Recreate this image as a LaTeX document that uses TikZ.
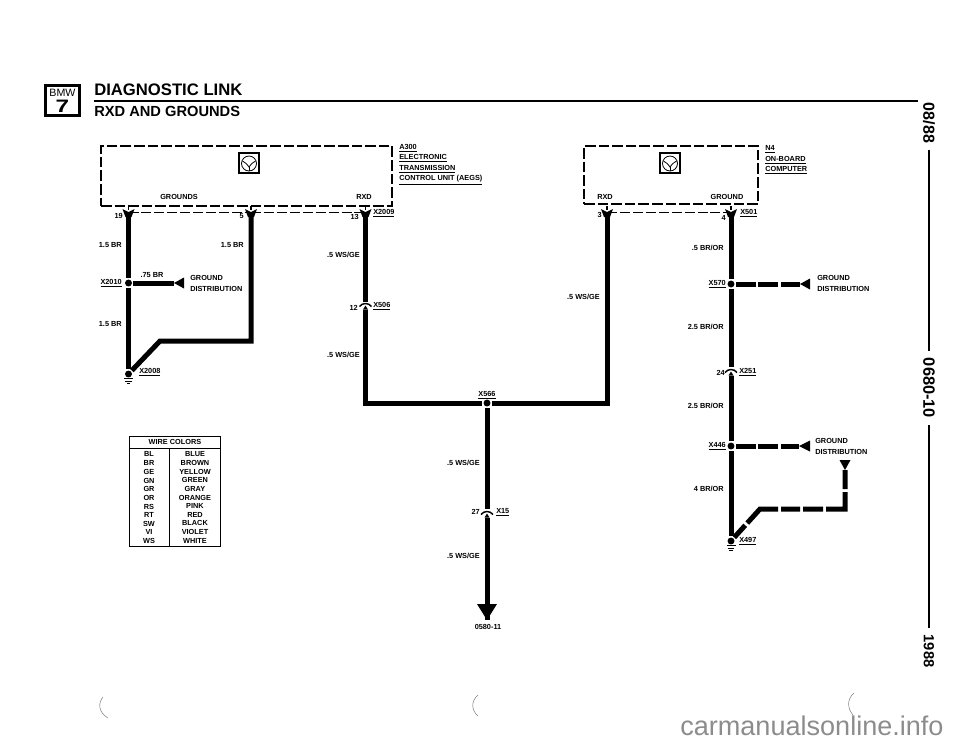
\documentclass[tikz,border=0pt]{standalone}
\usepackage{fontspec}
\setmainfont{Liberation Sans}
\usepackage{tikz}

\tikzset{
  lbl/.style={font=\fontsize{5.5}{6}\selectfont\bfseries, inner sep=0pt, anchor=west},
  lblc/.style={lbl, anchor=center},
  lble/.style={lbl, anchor=east},
  wire/.style={line width=3.75pt},
  dashwire/.style={wire, dash pattern=on 15pt off 1.8pt},
  boxline/.style={line width=1.3pt, dash pattern=on 8pt off 2.2pt},
  pinline/.style={line width=0.7pt, dash pattern=on 7.5pt off 2.2pt},
  splice/.style={circle, fill=black, inner sep=0pt, minimum size=5.2pt, outer sep=1pt},
  sidetext/.style={font=\fontsize{12}{12}\selectfont\bfseries, rotate=-90, inner sep=0pt, outer sep=5pt},
  forktop/.pic={
    \draw[line width=1pt] (0,-6) -- (0,-2);
    \fill (-6,-3) -- (0,0) -- (6,-3) -- (3,5) -- (-3,5) -- cycle;
  },
  plugtop/.pic={
    \draw[line width=1.1pt] (-6,2) .. controls (-3,-2) and (3,-2) .. (6,2);
    \fill (-2.5,5) -- (0,1) -- (2.5,5) -- cycle;
  },
  groundsym/.pic={
    \draw[line width=0.7pt] (-4.5,0) -- (4.5,0);
    \draw[line width=0.7pt] (-3.2,2.5) -- (3.2,2.5);
    \draw[line width=0.7pt] (-1.8,5) -- (1.8,5);
  },
  ecuicon/.pic={
    \draw[line width=1pt] (-10,-10) rectangle (10,10);
    \draw[line width=0.6pt] (0,0.5) circle (7.5);
    \draw[line width=0.6pt] (-6.5,-2) .. controls (-4,0) and (-1,1) .. (0,4) .. controls (1,1) and (4,0) .. (6.5,-2);
    \draw[line width=0.6pt] (0,4) -- (0,8);
  }
}

\begin{document}
\begin{tikzpicture}[x=0.75pt,y=-0.75pt]
\useasboundingbox (0,0) rectangle (960,744);

% heading
\node[draw, line width=2.4pt, minimum width=25pt, minimum height=22.5pt, inner sep=0pt] (logo) at (62.5,100.5) {};
\node[font=\fontsize{8}{8}\selectfont, inner sep=0pt] (bmw) at (62.5,92.5) {BMW};
\node[font=\fontsize{13.5}{14}\selectfont\bfseries, inner sep=0pt] (seven) at (62.5,106.5) {\scalebox{1.35}[1]{7}};
\node[font=\fontsize{12.5}{13}\selectfont\bfseries, inner sep=0pt, anchor=west] (title) at (94,90) {DIAGNOSTIC LINK};
\node[font=\fontsize{11}{12}\selectfont\bfseries, inner sep=0pt, anchor=west] (subtitle) at (94,111) {RXD AND GROUNDS};
\coordinate (heada) at (94,101);
\coordinate (headb) at (918,101);
\draw[line width=1.8pt] (heada) -- (headb);

% side strip
\node[sidetext] (date) at (929,123) {08/88};
\node[sidetext, font=\fontsize{12.3}{12}\selectfont\bfseries] (pageno) at (929,388) {0680-10};
\node[sidetext, font=\fontsize{11}{11}\selectfont\bfseries] (year) at (929,651) {1988};
\draw[line width=1.5pt] (date) -- (pageno);
\draw[line width=1.5pt] (pageno) -- (year);

% control units
\node[draw, boxline, minimum width=218.25pt, minimum height=45pt, inner sep=0pt] (a300) at (246.5,176) {};
\node[draw, boxline, minimum width=130.5pt, minimum height=43.5pt, inner sep=0pt] (n4) at (671,175) {};
\pic at (249,163) {ecuicon};
\pic at (670,163) {ecuicon};

\node[lbl] (a300name) at (399,148) {\underline{A300}};
\node[lbl] (a300l1) at (399,158.5) {\underline{ELECTRONIC}};
\node[lbl] (a300l2) at (399,169) {\underline{TRANSMISSION}};
\node[lbl] (a300l3) at (399,180) {\underline{CONTROL UNIT (AEGS)}};
\node[lblc] (grounds) at (179,197) {GROUNDS};
\node[lblc] (rxda) at (364,197) {RXD};
\node[lbl] (n4name) at (765,149) {\underline{N4}};
\node[lbl] (n4l1) at (765,160) {\underline{ON-BOARD}};
\node[lbl] (n4l2) at (765,170.5) {\underline{COMPUTER}};
\node[lblc] (rxdb) at (605,197) {RXD};
\node[lblc] (groundb) at (727,197) {GROUND};

% pins
\coordinate (pin19) at (128.5,212);
\coordinate (pin5) at (251,212);
\coordinate (pin13) at (365.5,212);
\coordinate (pin3) at (607,212);
\coordinate (pin4) at (731,212);
\draw[pinline] (pin19) -- (pin5);
\draw[pinline] (pin5) -- (pin13);
\draw[pinline] (pin3) -- (pin4);
\pic at (pin19) {forktop};
\pic at (pin5) {forktop};
\pic at (pin13) {forktop};
\pic at (pin3) {forktop};
\pic at (pin4) {forktop};

% splices and grounds
\node[splice] (x2010) at (128.5,283) {};
\node[splice] (x2008) at (128.5,374) {};
\node[splice] (x566) at (487,403) {};
\node[splice] (x570) at (731,284) {};
\node[splice] (x446) at (731,446) {};
\node[splice] (x497) at (731,541) {};
\pic at (128.5,378.5) {groundsym};
\pic at (731,545.5) {groundsym};

% left wires
\coordinate (bendab) at (251,341);
\coordinate (bendaa) at (160,341);
\coordinate (gda) at (174,283);
\draw[wire] (pin19) -- (x2010) -- (x2008);
\draw[wire] (pin5) -- (bendab) -- (bendaa) -- (x2008);
\draw[wire] (x2010) -- (gda);
\fill (gda) -- ++(10,-5.5) -- ++(0,11) -- cycle;

% RXD wires
\coordinate (x506top) at (365.5,302);
\coordinate (x506low) at (365.5,310);
\coordinate (cornerl) at (365.5,403);
\coordinate (cornerr) at (607,403);
\coordinate (x15top) at (487,509);
\coordinate (x15low) at (487,518);
\coordinate (endarrow) at (487,620);
\draw[wire] (pin13) -- (x506top);
\draw[wire] (x506low) -- (cornerl) -- (x566);
\draw[wire] (pin3) -- (cornerr) -- (x566);
\draw[wire] (x566) -- (x15top);
\draw[wire] (x15low) -- (endarrow);
\fill (endarrow) -- ++(-10,-16) -- ++(20,0) -- cycle;
\pic at (365.5,304.5) {plugtop};
\pic at (487,512.5) {plugtop};

% right wires
\coordinate (x251top) at (731,367);
\coordinate (x251low) at (731,376);
\coordinate (gdb) at (800,284);
\coordinate (gdc) at (799,446);
\coordinate (gdd) at (845,470);
\coordinate (bendbb) at (845,509);
\coordinate (bendba) at (760,509);
\draw[wire] (pin4) -- (x570) -- (x251top);
\draw[wire] (x251low) -- (x446) -- (x497);
\draw[dashwire] (x570) -- (gdb);
\draw[dashwire] (x446) -- (gdc);
\draw[wire, dash pattern=on 14.25pt off 2.25pt on 27pt off 2.25pt on 15pt off 2.25pt on 14.25pt off 2.25pt on 27.75pt off 2.25pt on 100pt] (gdd) -- (bendbb) -- (bendba) -- (x497);
\fill (gdb) -- ++(10,-5.5) -- ++(0,11) -- cycle;
\fill (gdc) -- ++(11,-5.5) -- ++(0,11) -- cycle;
\fill (gdd) -- ++(-5.5,-10) -- ++(11,0) -- cycle;
\pic at (731,370.5) {plugtop};

% wire labels
\node[lble] (pinnum19) at (123,216) {19};
\node[lble] (pinnum5) at (244,216) {5};
\node[lble] (pinnum13) at (359,217) {13};
\node[lbl] (x2009) at (373,213.5) {\underline{X2009}};
\node[lble] (sizea) at (122,245) {1.5 BR};
\node[lble] (sizeb) at (244,245) {1.5 BR};
\node[lble] (sizec) at (360,255) {.5 WS/GE};
\node[lblc] (sized) at (152,275) {.75 BR};
\node[lble] (x2010lbl) at (122,283.5) {\underline{X2010}};
\node[lbl] (gdaa) at (190,278) {GROUND};
\node[lbl] (gdab) at (190,288.5) {DISTRIBUTION};
\node[lble] (sizee) at (122,324) {1.5 BR};
\node[lble] (pinnum12) at (358,308) {12};
\node[lbl] (x506) at (373,306) {\underline{X506}};
\node[lble] (sizef) at (360,355) {.5 WS/GE};
\node[lbl] (x2008lbl) at (139,372) {\underline{X2008}};
\node[lblc] (x566lbl) at (487,395) {\underline{X566}};
\node[lble] (sizeg) at (480,463) {.5 WS/GE};
\node[lble] (pinnum27) at (480,512) {27};
\node[lbl] (x15lbl) at (496,512) {\underline{X15}};
\node[lble] (sizeh) at (480,556) {.5 WS/GE};
\node[lblc] (docno) at (488,627) {0580-11};
\node[lble] (sizei) at (600,297) {.5 WS/GE};

\node[lble] (pinnum3) at (602,215) {3};
\node[lble] (pinnum4) at (726,218) {4};
\node[lbl] (x501) at (740,213.5) {\underline{X501}};
\node[lble] (sizej) at (724,248) {.5 BR/OR};
\node[lble] (x570lbl) at (726,284) {\underline{X570}};
\node[lbl] (gdba) at (817,278) {GROUND};
\node[lbl] (gdbb) at (817,289) {DISTRIBUTION};
\node[lble] (sizek) at (724,327) {2.5 BR/OR};
\node[lble] (pinnum24) at (725,373) {24};
\node[lbl] (x251) at (739,372) {\underline{X251}};
\node[lble] (sizel) at (724,406) {2.5 BR/OR};
\node[lble] (x446lbl) at (726,446) {\underline{X446}};
\node[lbl] (gdca) at (815,441) {GROUND};
\node[lbl] (gdcb) at (815,452) {DISTRIBUTION};
\node[lble] (sizem) at (724,489) {4 BR/OR};
\node[lbl] (x497lbl) at (739,541) {\underline{X497}};

% wire colors table
\node[draw, line width=0.7pt, minimum width=68.25pt, minimum height=82.5pt, inner sep=0pt] (colortab) at (174.5,491) {};
\coordinate (taba) at (129,448.5);
\coordinate (tabb) at (220,448.5);
\coordinate (tabc) at (169,448.5);
\coordinate (tabd) at (169,546);
\draw[line width=0.7pt] (taba) -- (tabb);
\draw[line width=0.7pt] (tabc) -- (tabd);
\node[lblc] (wirecolors) at (175,442) {WIRE COLORS};
\node[lblc] (bl) at (149,454) {BL};   \node[lblc] (blue) at (195,454) {BLUE};
\node[lblc] (br) at (149,463) {BR};   \node[lblc] (brown) at (195,463) {BROWN};
\node[lblc] (ge) at (149,472) {GE};   \node[lblc] (yellow) at (195,471.5) {YELLOW};
\node[lblc] (gn) at (149,480.5) {GN}; \node[lblc] (green) at (195,480) {GREEN};
\node[lblc] (gr) at (149,489) {GR};   \node[lblc] (gray) at (195,488.5) {GRAY};
\node[lblc] (or) at (149,498) {OR};   \node[lblc] (orange) at (195,497.5) {ORANGE};
\node[lblc] (rs) at (149,506.5) {RS}; \node[lblc] (pink) at (195,506) {PINK};
\node[lblc] (rt) at (149,515) {RT};   \node[lblc] (red) at (195,514.5) {RED};
\node[lblc] (sw) at (149,523.5) {SW}; \node[lblc] (black) at (195,523) {BLACK};
\node[lblc] (vi) at (149,532) {VI};   \node[lblc] (violet) at (195,531.5) {VIOLET};
\node[lblc] (ws) at (149,541) {WS};   \node[lblc] (white) at (195,540.5) {WHITE};

% page marks and site name
\draw[gray, line width=0.4pt] (103,697) .. controls (98,703) and (98,712) .. (108,718);
\draw[gray, line width=0.4pt] (478,695) .. controls (471,701) and (471,710) .. (478,716);
\draw[gray, line width=0.4pt] (854,693) .. controls (847,699) and (847,708) .. (853,715);
\node[font=\fontsize{20.3}{21}\selectfont, text=black!45, inner sep=0pt, anchor=base west] (site) at (680,735) {carmanualsonline.info};
\end{tikzpicture}
\end{document}
